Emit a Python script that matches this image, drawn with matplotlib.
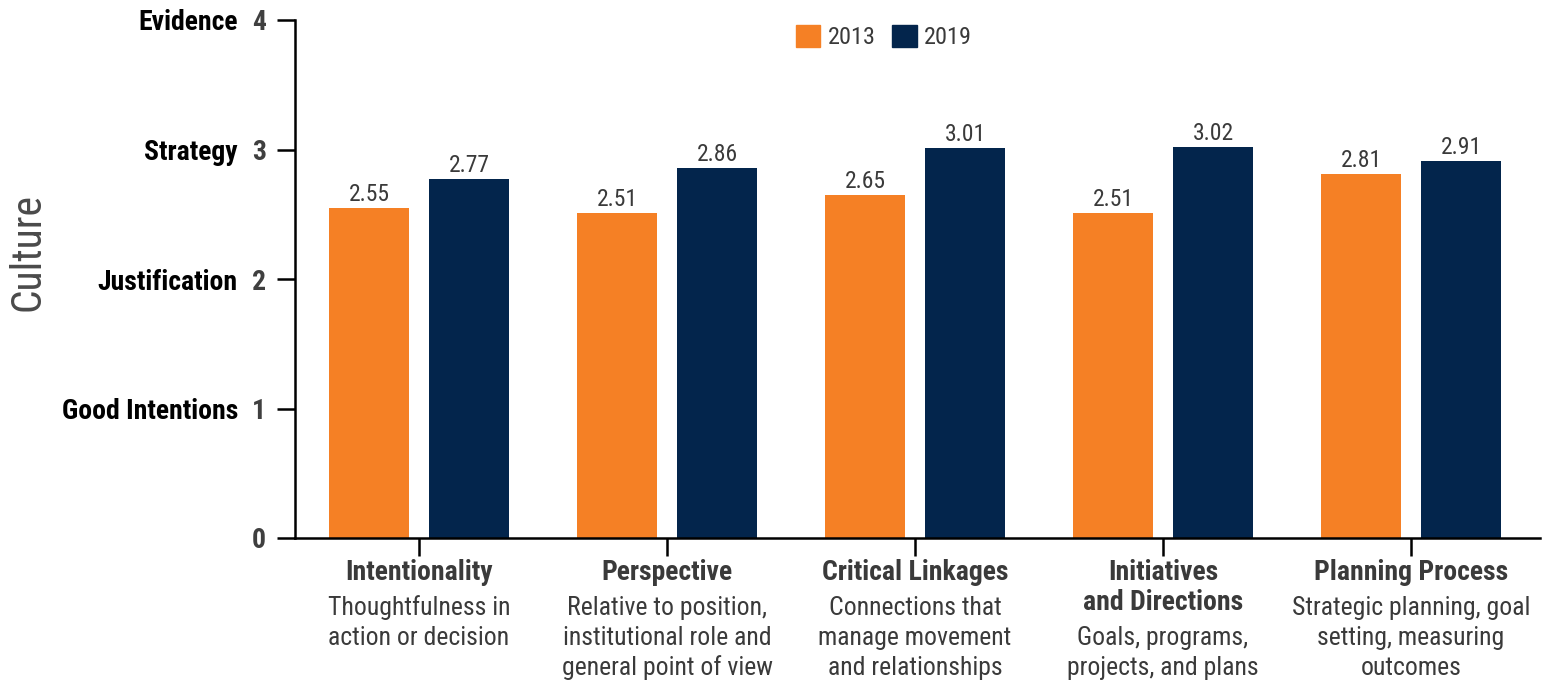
import matplotlib
matplotlib.use("Agg")
import matplotlib.pyplot as plt
import numpy as np
from matplotlib import font_manager
from matplotlib.patches import Patch

names = {f.name for f in font_manager.fontManager.ttflist}
FONT = "Roboto Condensed" if "Roboto Condensed" in names else "Roboto"
plt.rcParams['font.family'] = [FONT, 'DejaVu Sans']

categories = ["Intentionality", "Perspective", "Critical Linkages", "Initiatives\nand Directions", "Planning Process"]
descriptions = ["Thoughtfulness in\naction or decision",
                "Relative to position,\ninstitutional role and\ngeneral point of view",
                "Connections that\nmanage movement\nand relationships",
                "Goals, programs,\nprojects, and plans",
                "Strategic planning, goal\nsetting, measuring\noutcomes"]
series_names = ["2013", "2019"]
values_2013 = [2.55, 2.51, 2.65, 2.51, 2.81]
values_2019 = [2.77, 2.86, 3.01, 3.02, 2.91]
ytick_values = [0, 1, 2, 3, 4]
level_names = ["", "Good Intentions", "Justification", "Strategy", "Evidence"]

ORANGE = "#F58025"
NAVY = "#03254C"
GRAY = "#3a3a3a"

fig = plt.figure(figsize=(15.54, 6.81), dpi=100)
ax = fig.add_axes([295/1554, 143/681, (1540-295)/1554, (538-20)/681])

x = np.arange(len(categories))
w = 0.323
off = 0.2016
b1 = ax.bar(x - off, values_2013, w, color=ORANGE, label=series_names[0])
b2 = ax.bar(x + off, values_2019, w, color=NAVY, label=series_names[1])
for bars, vals in ((b1, values_2013), (b2, values_2019)):
    for r, v in zip(bars, vals):
        ax.annotate(f"{v:.2f}", xy=(r.get_x() + r.get_width()/2, v), xytext=(0, 2),
                    textcoords="offset pixels", ha="center", va="bottom",
                    fontsize=17, color=GRAY)

ax.set_xlim(-0.5, len(categories) - 0.48)
ax.set_ylim(0, 4)
for s in ("top", "right"):
    ax.spines[s].set_visible(False)
for s in ("left", "bottom"):
    ax.spines[s].set_linewidth(1.8)
    ax.spines[s].set_color("black")

ax.set_yticks(ytick_values)
ax.set_yticklabels([str(v) for v in ytick_values], fontsize=20, fontweight="bold", color="#3f3f3f")
ax.tick_params(axis="y", length=13, width=1.8, pad=8)
ax.set_xticks(x)
ax.set_xticklabels([""] * len(categories))
ax.tick_params(axis="x", length=13, width=1.8)

for v, nm in zip(ytick_values, level_names):
    if nm:
        ax.annotate(nm, xy=(0, v), xycoords=("axes fraction", "data"), xytext=(-57, 0),
                    textcoords="offset pixels", ha="right", va="center_baseline",
                    fontsize=20, fontweight="bold", color="black")

LINE = 30
for xi, cat, desc in zip(x, categories, descriptions):
    y = -34
    for line in cat.split("\n"):
        ax.annotate(line, xy=(xi, 0), xycoords=("data", "axes fraction"), xytext=(0, y),
                    textcoords="offset pixels", ha="center", va="center", fontsize=20,
                    fontweight="bold", color=GRAY)
        y -= LINE
    y -= 6
    for line in desc.split("\n"):
        ax.annotate(line, xy=(xi, 0), xycoords=("data", "axes fraction"), xytext=(0, y),
                    textcoords="offset pixels", ha="center", va="center", fontsize=18.5,
                    color=GRAY)
        y -= LINE

fig.text(28/1554, 1 - 252/681, "Culture", rotation=90, ha="center", va="center",
         fontsize=30, color="#4a4a4a")

handles = [Patch(color=ORANGE), Patch(color=NAVY)]
fig.legend(handles, series_names, loc="center", bbox_to_anchor=(884/1554, 1 - 37/681),
           ncol=2, frameon=False, fontsize=17.5, handlelength=1.0, handleheight=1.0,
           columnspacing=0.7, handletextpad=0.3, labelcolor=GRAY)

fig.savefig("out.png", dpi=100)
